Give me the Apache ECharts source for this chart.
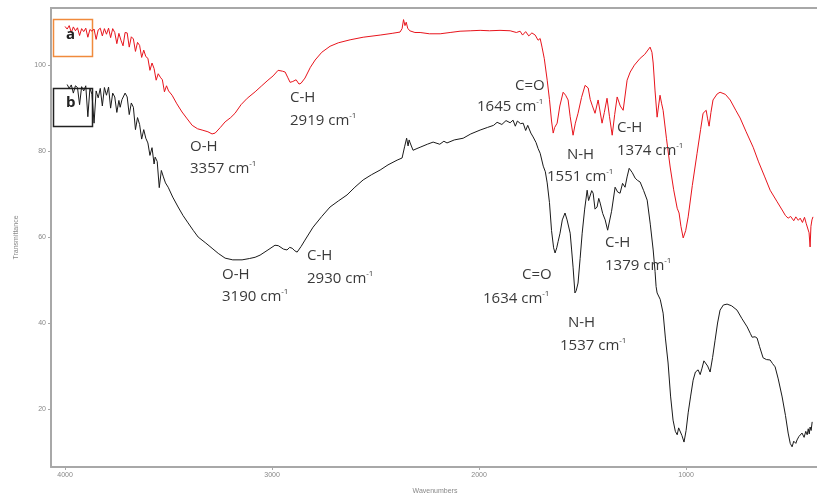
<!DOCTYPE html>
<html><head><meta charset="utf-8">
<script src="https://cdn.jsdelivr.net/npm/echarts@6/dist/echarts.min.js"></script>
<style>html,body{margin:0;padding:0;background:#fff;overflow:hidden}#wrap{width:817px;height:497px;overflow:hidden;position:relative}#c{width:819px;height:497px}</style>
</head><body><div id="wrap"><div id="c"></div></div>
<script>
// ---- data (wavenumber cm-1, transmittance) ----
const wnA = [4000,3990,3980,3970,3960,3950,3940,3930,3920,3910,3900,3890,3880,3870,3860,3850,3840,3830,3820,3810,3800,3790,3780,3770,3760,3750,3740,3730,3720,3710,3700,3690,3680,3670,3660,3650,3640,3630,3620,3610,3600,3590,3580,3570,3560,3550,3540,3530,3520,3510,3500,3483,3460,3435,3410,3386,3360,3338,3310,3290,3275,3250,3227,3200,3179,3150,3120,3082,3050,3020,2995,2971,2950,2937,2925,2913,2900,2884,2870,2860,2841,2815,2792,2760,2720,2680,2623,2560,2478,2420,2382,2372,2365,2358,2352,2345,2335,2310,2285,2240,2188,2140,2092,2040,1995,1950,1899,1850,1820,1802,1790,1775,1760,1745,1729,1715,1705,1696,1685,1671,1660,1650,1642,1635,1623,1610,1594,1582,1570,1560,1546,1535,1522,1505,1488,1473,1463,1454,1440,1425,1406,1395,1382,1370,1357,1345,1333,1318,1304,1285,1270,1250,1222,1200,1174,1165,1159,1150,1140,1133,1126,1118,1111,1095,1077,1060,1043,1034,1025,1014,1002,990,970,947,930,918,903,896,889,880,870,850,836,810,787,760,739,710,676,650,620,594,560,536,520,507,495,480,470,458,449,438,428,420,411,406,401,397,392,387];
const tA = [109.0,108.4,109.2,107.6,108.9,108.0,108.7,106.9,108.5,107.8,108.6,106.5,108.3,107.9,108.4,106.0,108.2,108.6,106.8,108.5,107.2,108.6,106.4,108.5,107.6,105.0,107.4,105.8,104.5,107.6,107.5,104.2,106.6,106.1,103.2,105.3,104.6,101.8,103.5,102.0,101.6,98.8,100.5,99.2,96.5,98.0,97.2,96.6,93.8,95.2,94.0,93.0,91.0,89.1,87.5,86.0,85.2,84.9,84.5,84.0,84.2,85.5,86.8,87.8,88.8,90.8,92.3,93.8,95.2,96.5,97.5,98.8,98.6,98.4,97.2,96.0,96.2,96.6,95.6,95.8,97.0,99.5,101.2,103.0,104.4,105.2,105.9,106.5,107.0,107.4,107.7,108.5,110.6,109.2,110.0,108.6,108.0,107.6,107.6,107.3,107.3,107.6,107.9,108.0,108.1,108.0,108.1,108.0,107.6,107.9,107.0,107.8,106.8,107.5,107.0,105.8,106.2,104.2,101.5,96.5,92.0,87.0,84.2,85.5,86.5,90.5,93.7,93.0,91.9,88.0,83.7,86.5,88.8,92.5,95.3,94.7,92.0,90.7,88.8,91.9,86.5,89.0,92.3,88.0,83.7,88.5,92.6,90.5,89.5,96.5,98.4,100.0,101.6,102.5,104.2,103.0,100.5,94.0,87.9,90.5,93.0,91.0,89.5,83.0,76.3,71.0,66.7,65.6,62.5,59.8,61.5,64.7,72.0,79.5,85.0,88.8,89.5,87.5,85.8,89.0,91.9,93.3,93.7,93.2,91.9,89.5,87.7,84.5,80.9,77.5,74.0,70.9,68.2,66.3,65.0,64.4,64.8,63.8,64.7,63.9,64.4,63.4,64.6,63.2,63.5,61.0,57.7,62.5,64.0,64.7];

const wnB = [3990,3980,3970,3960,3950,3940,3930,3920,3910,3900,3890,3880,3870,3860,3850,3840,3830,3820,3810,3800,3790,3780,3770,3760,3750,3740,3734,3725,3710,3700,3690,3680,3670,3660,3650,3640,3630,3620,3610,3600,3590,3580,3570,3565,3555,3545,3535,3525,3515,3502,3480,3454,3430,3406,3380,3357,3320,3290,3260,3227,3190,3145,3110,3082,3058,3020,2986,2970,2961,2945,2928,2915,2903,2890,2879,2860,2841,2802,2760,2720,2680,2638,2600,2560,2520,2478,2440,2396,2372,2360,2350,2343,2338,2333,2319,2300,2285,2250,2222,2190,2170,2155,2120,2077,2040,1995,1960,1930,1913,1890,1870,1850,1836,1825,1815,1800,1787,1775,1765,1750,1739,1725,1715,1705,1690,1680,1671,1660,1650,1640,1633,1625,1618,1609,1598,1585,1575,1560,1553,1546,1537,1531,1522,1512,1502,1490,1478,1471,1464,1456,1449,1440,1430,1422,1415,1403,1391,1379,1372,1360,1343,1331,1319,1307,1295,1285,1275,1260,1246,1235,1222,1205,1188,1173,1159,1150,1145,1140,1125,1111,1100,1087,1075,1063,1052,1043,1036,1029,1020,1010,1000,990,978,966,955,942,932,923,914,908,896,884,872,860,848,836,820,802,780,754,730,705,690,681,667,657,645,628,612,594,583,570,555,536,520,507,497,488,480,470,464,455,446,440,430,422,415,410,405,401,396,391];
const tB = [95.5,94.6,95.4,93.5,95.2,94.8,90.8,95.0,94.0,95.2,88.0,94.6,93.2,86.5,94.0,92.4,94.6,90.5,94.8,93.0,94.9,90.0,93.5,92.6,89.0,91.8,90.2,92.0,93.5,92.6,88.5,91.2,90.2,85.0,87.8,86.2,82.8,85.0,83.0,81.9,79.0,80.8,77.0,78.6,77.6,71.5,75.5,74.0,72.6,71.6,69.3,67.0,65.0,63.3,61.5,60.0,58.6,57.4,56.2,55.1,54.7,54.7,55.0,55.3,55.8,57.0,58.1,58.0,57.7,57.2,57.0,57.6,57.4,56.8,56.5,57.8,59.3,62.3,64.8,67.0,68.4,69.8,71.6,73.3,74.5,75.6,76.8,77.9,78.4,81.0,83.0,81.2,82.6,81.9,80.2,80.6,80.9,81.6,82.1,81.6,82.3,81.9,82.6,83.0,84.0,84.9,85.5,86.0,86.7,86.2,87.1,86.6,87.2,85.8,87.0,86.4,86.5,84.8,86.0,84.2,83.3,82.0,80.6,79.5,76.5,75.2,72.6,68.0,61.5,57.5,56.3,57.5,59.0,60.9,64.0,65.6,64.0,60.9,57.0,53.0,47.0,47.5,49.3,55.0,60.9,66.5,70.9,68.5,68.6,70.8,70.2,66.5,67.0,69.0,67.9,65.5,64.0,61.6,62.0,66.0,71.6,70.5,70.2,72.5,71.6,74.0,76.0,75.0,73.7,73.2,72.8,70.8,68.6,63.0,57.0,52.0,48.5,47.0,45.5,42.3,36.5,30.7,23.0,17.4,14.8,14.0,15.6,15.6,13.8,12.3,15.0,19.1,23.0,26.7,28.6,29.1,28.0,29.5,31.2,31.4,30.0,28.6,32.0,36.0,40.0,43.0,44.2,44.4,44.0,43.0,41.0,39.1,37.6,36.7,36.8,36.5,34.5,31.9,31.5,31.4,30.6,29.8,27.0,22.8,18.5,14.4,12.0,11.2,12.5,12.0,12.8,13.6,13.2,14.4,13.4,14.8,14.0,15.4,14.2,15.8,15.0,17.0];

const xTicks = [4000, 3000, 2000, 1000];
const yTicks = [20, 40, 60, 80, 100];
const seriesNames = ['a', 'b'];
const annotsA = [['O-H','3357'],['C-H','2919'],['C=O','1645'],['N-H','1551'],['C-H','1374']];
const annotsB = [['O-H','3190'],['C-H','2930'],['C=O','1634'],['N-H','1537'],['C-H','1379']];

// layout of annotation text (pixels): [labelX, labelY, numX, numY]
const posA = [[190,149,190,170],[290,100,290,122],[515,88,477,108],[567,157,547,178],[617,130,617,152]];
const posB = [[222,277,222,298],[307,258,307,280],[522,277,483,300],[568,325,560,347],[605,245,605,267]];

const chart = echarts.init(document.getElementById('c'));
const pair = (w, t) => w.map((v, i) => [v, t[i]]);
const txtColor = '#3a3a3a';
const fontFam = '"Open Sans", "Noto Sans", sans-serif';

function annotGraphics(list, pos) {
  const out = [];
  list.forEach((a, i) => {
    const p = pos[i];
    out.push({type:'text', left:p[0], top:p[1]-10, z:10,
      style:{text:a[0], fill:txtColor, font:'15px ' + fontFam}});
    out.push({type:'text', left:p[2], top:p[3]-10, z:10,
      style:{text:'{n|' + a[1] + ' cm}{s|-1}', fill:txtColor, font:'15px ' + fontFam,
        rich:{n:{fontSize:15, fontFamily:fontFam, fill:txtColor},
              s:{fontSize:8, fontFamily:fontFam, fill:txtColor, verticalAlign:'top', padding:[0,0,9,0]}}}});
  });
  return out;
}

const axisGrey = '#a8a8a8';
const plain = v => String(v);
chart.setOption({
  animation:false,
  backgroundColor:'#fff',
  grid:{left:51, right:0, top:8, bottom:30, containLabel:false, outerBoundsMode:'none'},
  xAxis:{
    type:'value', inverse:true, min:358, max:4068,
    name:'Wavenumbers', nameLocation:'middle', nameGap:21,
    nameTextStyle:{fontSize:7, color:'#888', fontFamily:'Liberation Sans'},
    axisLine:{onZero:false, lineStyle:{color:axisGrey, width:2}},
    axisTick:{show:true, length:3, customValues:xTicks, lineStyle:{color:axisGrey}},
    axisLabel:{customValues:xTicks, formatter:plain, fontSize:7, color:'#888', margin:5, fontFamily:'Liberation Sans'},
    splitLine:{show:false}
  },
  yAxis:{
    type:'value', min:6.5, max:113.3,
    name:'Transmittance', nameLocation:'middle', nameGap:31, nameRotate:90,
    nameTextStyle:{fontSize:7, color:'#888', fontFamily:'Liberation Sans'},
    axisLine:{show:true, onZero:false, lineStyle:{color:axisGrey, width:2}},
    axisTick:{show:true, length:3, customValues:yTicks, lineStyle:{color:axisGrey}},
    axisLabel:{customValues:yTicks, formatter:plain, fontSize:7, color:'#888', margin:5, fontFamily:'Liberation Sans'},
    splitLine:{show:false}
  },
  series:[
    {name:seriesNames[0], type:'line', data:pair(wnA, tA), showSymbol:false, symbol:'none',
      lineStyle:{color:'#e8141c', width:1}, z:3},
    {name:seriesNames[1], type:'line', data:pair(wnB, tB), showSymbol:false, symbol:'none',
      lineStyle:{color:'#1a1a1a', width:1}, z:3}
  ],
  graphic:[
    {type:'line', z:2, shape:{x1:50, y1:8, x2:819, y2:8}, style:{stroke:axisGrey, lineWidth:2}},
    {type:'rect', left:51, top:17, z:1, shape:{width:39, height:37},
      style:{fill:'none', stroke:'#f08a3c', lineWidth:1.5}},
    {type:'text', left:66, top:27, z:10, style:{text:seriesNames[0], fill:'#222', font:'bold 15px ' + fontFam}},
    {type:'rect', left:51, top:86, z:1, shape:{width:39, height:38},
      style:{fill:'none', stroke:'#222', lineWidth:1.5}},
    {type:'text', left:66, top:95, z:10, style:{text:seriesNames[1], fill:'#222', font:'bold 15px ' + fontFam}}
  ].concat(annotGraphics(annotsA, posA), annotGraphics(annotsB, posB))
});
</script>
</body></html>
